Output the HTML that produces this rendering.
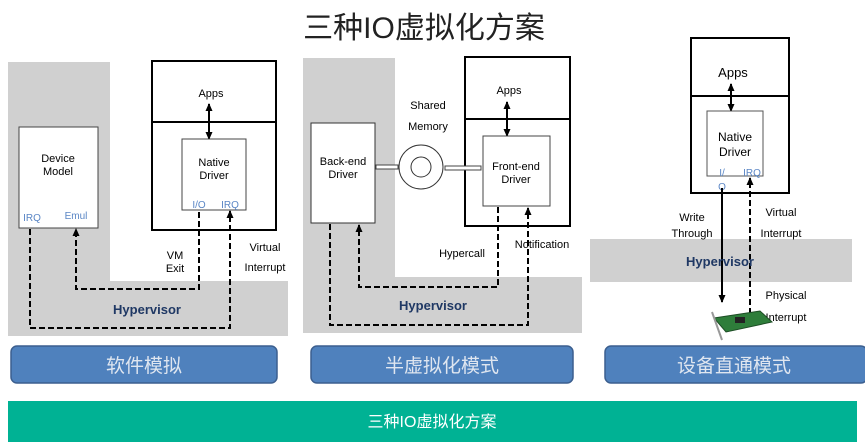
<!DOCTYPE html>
<html><head><meta charset="utf-8"><style>
html,body{margin:0;padding:0;background:#fff;width:865px;height:446px;overflow:hidden}
svg text{font-family:"Liberation Sans","DejaVu Sans",sans-serif}
.cj{font-family:"Liberation Sans","Noto Sans CJK SC",sans-serif}
</style></head><body>
<svg width="865" height="446" viewBox="0 0 865 446" xmlns="http://www.w3.org/2000/svg">
<defs>
<marker id="a" markerUnits="userSpaceOnUse" markerWidth="8" markerHeight="8" refX="7" refY="4" orient="auto-start-reverse"><path d="M0,0.5 L8,4 L0,7.5z" fill="#000"/></marker>
</defs>
<text x="424" y="38" font-size="30" text-anchor="middle" class="cj" fill="#222">三种IO虚拟化方案</text>

<!-- Panel 1 -->
<path d="M8,62 H110 V281 H288 V336 H8Z" fill="#d0d0d0"/>
<rect x="152" y="61" width="124" height="169" fill="#fff" stroke="#000" stroke-width="2"/>
<line x1="152" y1="122" x2="276" y2="122" stroke="#000" stroke-width="2"/>
<text x="211" y="97" font-size="11" text-anchor="middle">Apps</text>
<line x1="209" y1="104" x2="209" y2="139" stroke="#000" stroke-width="2" marker-start="url(#a)" marker-end="url(#a)"/>
<rect x="182" y="139" width="64" height="71" fill="#fff" stroke="#444"/>
<text x="214" y="166" font-size="11" text-anchor="middle">Native</text>
<text x="214" y="179" font-size="11" text-anchor="middle">Driver</text>
<text x="199" y="208" font-size="10" text-anchor="middle" fill="#5a86c5" font-family="Liberation Mono">I/O</text>
<text x="230" y="208" font-size="10" text-anchor="middle" fill="#5a86c5" font-family="Liberation Mono">IRQ</text>
<rect x="19" y="127" width="79" height="101" fill="#fff" stroke="#444"/>
<text x="58" y="162" font-size="11" text-anchor="middle">Device</text>
<text x="58" y="175" font-size="11" text-anchor="middle">Model</text>
<text x="32" y="221" font-size="10" text-anchor="middle" fill="#5a86c5" font-family="Liberation Mono">IRQ</text>
<text x="76" y="219" font-size="10" text-anchor="middle" fill="#5a86c5">Emul</text>
<g fill="none" stroke="#000" stroke-width="2" stroke-dasharray="6,3">
<path d="M30,229 V328 H230 V211" marker-end="url(#a)"/>
<path d="M199,212 V289 H76 V229" marker-end="url(#a)"/>
</g>
<text x="175" y="259" font-size="11" text-anchor="middle">VM</text>
<text x="175" y="272" font-size="11" text-anchor="middle">Exit</text>
<text x="265" y="251" font-size="11" text-anchor="middle">Virtual</text>
<text x="265" y="271" font-size="11" text-anchor="middle">Interrupt</text>
<text x="147" y="314" font-size="13" font-weight="bold" text-anchor="middle" fill="#1f3864">Hypervisor</text>

<!-- Panel 2 -->
<path d="M303,58 H395 V277 H582 V333 H303Z" fill="#d0d0d0"/>
<rect x="465" y="57" width="105" height="169" fill="#fff" stroke="#000" stroke-width="2"/>
<line x1="465" y1="119" x2="570" y2="119" stroke="#000" stroke-width="2"/>
<text x="509" y="94" font-size="11" text-anchor="middle">Apps</text>
<line x1="507" y1="102" x2="507" y2="136" stroke="#000" stroke-width="2" marker-start="url(#a)" marker-end="url(#a)"/>
<rect x="483" y="136" width="67" height="70" fill="#fff" stroke="#444"/>
<text x="516" y="170" font-size="11" text-anchor="middle">Front-end</text>
<text x="516" y="183" font-size="11" text-anchor="middle">Driver</text>
<rect x="311" y="123" width="64" height="100" fill="#fff" stroke="#333"/>
<text x="343" y="165" font-size="11" text-anchor="middle">Back-end</text>
<text x="343" y="178" font-size="11" text-anchor="middle">Driver</text>
<circle cx="421" cy="167" r="22" fill="#fff" stroke="#333"/>
<circle cx="421" cy="167" r="10" fill="none" stroke="#333"/>
<rect x="376" y="165" width="22" height="4" fill="#fff" stroke="#444"/>
<rect x="445" y="166" width="36" height="4" fill="#fff" stroke="#444"/>
<text x="428" y="109" font-size="11" text-anchor="middle">Shared</text>
<text x="428" y="130" font-size="11" text-anchor="middle">Memory</text>
<g fill="none" stroke="#000" stroke-width="2" stroke-dasharray="6,3">
<path d="M330,224 V325 H528 V208" marker-end="url(#a)"/>
<path d="M498,207 V287 H359 V225" marker-end="url(#a)"/>
</g>
<text x="462" y="257" font-size="11" text-anchor="middle">Hypercall</text>
<text x="542" y="248" font-size="11" text-anchor="middle">Notification</text>
<text x="433" y="310" font-size="13" font-weight="bold" text-anchor="middle" fill="#1f3864">Hypervisor</text>

<!-- Panel 3 -->
<rect x="590" y="239" width="262" height="43" fill="#d0d0d0"/>
<rect x="691" y="38" width="98" height="155" fill="#fff" stroke="#000" stroke-width="2"/>
<line x1="691" y1="96" x2="789" y2="96" stroke="#000" stroke-width="2"/>
<text x="733" y="77" font-size="13" text-anchor="middle">Apps</text>
<line x1="731" y1="84" x2="731" y2="111" stroke="#000" stroke-width="2" marker-start="url(#a)" marker-end="url(#a)"/>
<rect x="707" y="111" width="56" height="65" fill="#fff" stroke="#555"/>
<text x="735" y="141" font-size="12" text-anchor="middle">Native</text>
<text x="735" y="156" font-size="12" text-anchor="middle">Driver</text>
<text x="722" y="176" font-size="10" text-anchor="middle" fill="#5a86c5" font-family="Liberation Mono">I/</text>
<text x="722" y="190" font-size="10" text-anchor="middle" fill="#5a86c5" font-family="Liberation Mono">O</text>
<text x="752" y="176" font-size="10" text-anchor="middle" fill="#5a86c5" font-family="Liberation Mono">IRQ</text>
<line x1="722" y1="188" x2="722" y2="302" stroke="#000" stroke-width="2" marker-end="url(#a)"/>
<line x1="750" y1="314" x2="750" y2="178" stroke="#000" stroke-width="2" stroke-dasharray="6,3" marker-end="url(#a)"/>
<text x="692" y="221" font-size="11" text-anchor="middle">Write</text>
<text x="692" y="237" font-size="11" text-anchor="middle">Through</text>
<text x="781" y="216" font-size="11" text-anchor="middle">Virtual</text>
<text x="781" y="237" font-size="11" text-anchor="middle">Interrupt</text>
<text x="720" y="266" font-size="13" font-weight="bold" text-anchor="middle" fill="#1f3864">Hypervisor</text>
<text x="786" y="299" font-size="11" text-anchor="middle">Physical</text>
<text x="786" y="321" font-size="11" text-anchor="middle">Interrupt</text>
<polygon points="714,318 760,311 772,322 726,332" fill="#2e7d3a" stroke="#1d4d25"/>
<line x1="712" y1="312" x2="722" y2="340" stroke="#999" stroke-width="2"/>
<rect x="735" y="317" width="10" height="6" fill="#222"/>

<!-- Buttons -->
<g stroke="#3c5f8f" stroke-width="1.5" fill="#4f81bd">
<rect x="11" y="346" width="266" height="37" rx="6"/>
<rect x="311" y="346" width="262" height="37" rx="6"/>
<rect x="605" y="346" width="262" height="37" rx="6"/>
</g>
<g fill="#dfe6f0" font-size="19" text-anchor="middle" class="cj">
<text x="144" y="372" class="cj">软件模拟</text>
<text x="442" y="372" class="cj">半虚拟化模式</text>
<text x="734" y="372" class="cj">设备直通模式</text>
</g>
<rect x="8" y="401" width="849" height="41" fill="#00b294"/>
<text x="432" y="427" font-size="16" text-anchor="middle" fill="#fff" class="cj">三种IO虚拟化方案</text>
</svg>
</body></html>
